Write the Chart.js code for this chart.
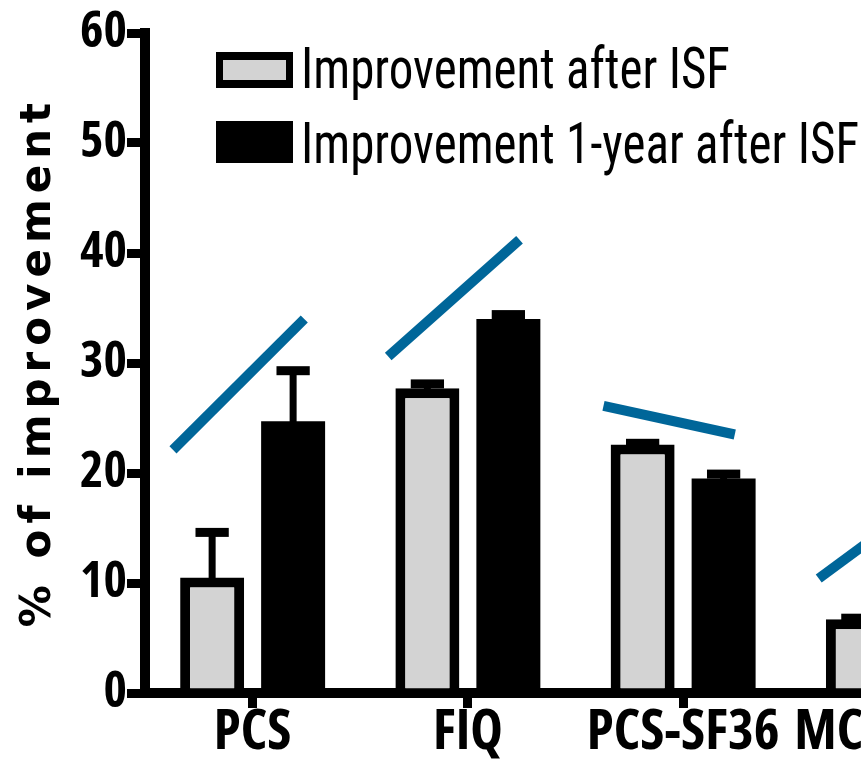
<!DOCTYPE html>
<html>
<head>
<meta charset="utf-8">
<title>% of improvement</title>
<script src="https://cdn.jsdelivr.net/npm/chart.js@4"></script>
<style>
  html, body { margin: 0; padding: 0; background: #fff; overflow: hidden; }
  #wrap { width: 1020px; height: 759px; }
</style>
</head>
<body>
<div id="wrap"><canvas id="chart" width="1020" height="759"></canvas></div>
<script>
// Outcome measures
const categories = ['PCS', 'FIQ', 'PCS-SF36', 'MCS-SF36'];

// Mean % improvement and SEM per measure
const afterISF = [10.5, 27.7, 22.6, 6.7];
const afterISFErr = [4.1, 0.4, 0.1, 0.1];
const oneYearAfterISF = [24.7, 34.0, 19.5, 15.0];
const oneYearAfterISFErr = [4.6, 0.4, 0.4, 0.4];

// Trend strokes drawn above each pair (value at start and end of the stroke)
const trendFrom = [22.1, 30.6, 26.1, 10.4];
const trendTo = [34.0, 41.2, 23.5, 19.2];

// Y axis ticks
const yTicks = [0, 10, 20, 30, 40, 50, 60];

const seriesNames = ['Improvement after ISF', 'Improvement 1-year after ISF'];

const GRAY = '#d3d3d3';
const BLUE = '#006699';
// Condensed bold face for the axis numbers and category names
const TICK_FONT = { family: "'Open Sans', 'Roboto Condensed', sans-serif", weight: 'bold condensed', size: 50, lineHeight: 1.2 };
const CAT_FONT = { family: "'Open Sans', 'Roboto Condensed', sans-serif", weight: 'bold condensed', size: 55, lineHeight: 1.2 };

// Where each trend stroke starts and ends, as a fraction of a category step
const TREND_START = -0.37;
const TREND_END = 0.24;

const errorSets = [afterISFErr, oneYearAfterISFErr];

// Trend strokes placed with the category and value scales
const trendStrokes = {
  id: 'trendStrokes',
  afterDatasetsDraw(chart) {
    const { ctx, scales: { x, y } } = chart;
    const step = x.getPixelForValue(1) - x.getPixelForValue(0);
    ctx.save();
    ctx.beginPath();
    ctx.rect(chart.chartArea.left, 0, chart.width, chart.height);
    ctx.clip();
    ctx.strokeStyle = BLUE;
    ctx.lineWidth = 10;
    ctx.lineCap = 'butt';
    categories.forEach((c, i) => {
      const cx = x.getPixelForValue(i);
      ctx.beginPath();
      ctx.moveTo(cx + TREND_START * step, y.getPixelForValue(trendFrom[i]));
      ctx.lineTo(cx + TREND_END * step, y.getPixelForValue(trendTo[i]));
      ctx.stroke();
    });
    ctx.restore();
  }
};

// Upward SEM whiskers on each bar
const errorBars = {
  id: 'errorBars',
  afterDatasetsDraw(chart) {
    const ctx = chart.ctx;
    const yScale = chart.scales.y;
    ctx.save();
    ctx.fillStyle = '#000';
    errorSets.forEach((errs, di) => {
      const meta = chart.getDatasetMeta(di);
      const vals = chart.data.datasets[di].data;
      meta.data.forEach((bar, i) => {
        const top = yScale.getPixelForValue(vals[i] + errs[i]);
        const capW = bar.width * 0.52;
        ctx.fillRect(bar.x - 3.5, top, 7, bar.y - top + 2);
        ctx.fillRect(bar.x - capW / 2, top - 4.5, capW, 9);
      });
    });
    ctx.restore();
  }
};

// Legend boxes and labels in the upper part of the plot
const boxLegend = {
  id: 'boxLegend',
  afterDraw(chart) {
    const ctx = chart.ctx;
    ctx.save();
    const rows = [
      { y: 52, h: 36, ds: chart.data.datasets[0] },
      { y: 121, h: 42, ds: chart.data.datasets[1] }
    ];
    rows.forEach((r) => {
      const x = 216, w = 77;
      ctx.fillStyle = r.ds.borderColor;
      ctx.fillRect(x, r.y, w, r.h);
      if (r.ds.backgroundColor !== r.ds.borderColor) {
        ctx.fillStyle = r.ds.backgroundColor;
        ctx.fillRect(x + 7, r.y + 8, w - 14, r.h - 16);
      }
      ctx.save();
      ctx.fillStyle = '#000';
      ctx.font = "400 58px 'Roboto Condensed', sans-serif";
      ctx.textBaseline = 'alphabetic';
      ctx.translate(301, r.y + r.h);
      ctx.scale(0.845, 1);
      ctx.fillText(r.ds.label, 0, 0);
      ctx.restore();
    });
    ctx.restore();
  }
};

// Rotated, letter-spaced y axis title
const yTitle = {
  id: 'yTitle',
  afterDraw(chart) {
    const ctx = chart.ctx;
    ctx.save();
    ctx.translate(50, 362);
    ctx.rotate(-Math.PI / 2);
    ctx.fillStyle = '#000';
    ctx.font = "bold 42px 'DejaVu Sans', sans-serif";
    ctx.letterSpacing = '6px';
    ctx.textAlign = 'center';
    ctx.textBaseline = 'alphabetic';
    ctx.fillText('% of improvement', 0, 0);
    ctx.restore();
  }
};

new Chart(document.getElementById('chart'), {
  type: 'bar',
  data: {
    labels: categories,
    datasets: [
      {
        label: seriesNames[0],
        data: afterISF,
        backgroundColor: GRAY,
        borderColor: '#000',
        borderWidth: 10,
        borderSkipped: 'start'
      },
      {
        label: seriesNames[1],
        data: oneYearAfterISF,
        backgroundColor: '#000',
        borderColor: '#000',
        borderWidth: 0
      }
    ]
  },
  options: {
    responsive: false,
    animation: false,
    categoryPercentage: 0.7525,
    barPercentage: 0.79,
    layout: { padding: { top: 33, right: 14, bottom: 0, left: 0 } },
    plugins: { legend: { display: false }, tooltip: { enabled: false } },
    scales: {
      x: {
        offset: true,
        grid: { offset: false, drawOnChartArea: false, drawTicks: true, tickLength: 15, lineWidth: 9, color: '#000' },
        border: { display: true, width: 10, color: '#000' },
        ticks: { color: '#000', font: CAT_FONT, padding: -8, maxRotation: 0, autoSkip: false },
        afterFit(s) { s.height = 66; }
      },
      y: {
        min: yTicks[0],
        max: yTicks[yTicks.length - 1],
        afterBuildTicks(s) { s.ticks = yTicks.map(v => ({ value: v })); },
        grid: { drawOnChartArea: false, drawTicks: true, tickLength: 18, lineWidth: 9, color: '#000' },
        border: { display: true, width: 10, color: '#000' },
        ticks: { color: '#000', font: TICK_FONT, padding: 0 },
        afterFit(s) { s.width = 145; }
      }
    }
  },
  plugins: [trendStrokes, errorBars, boxLegend, yTitle]
});
</script>
</body>
</html>
